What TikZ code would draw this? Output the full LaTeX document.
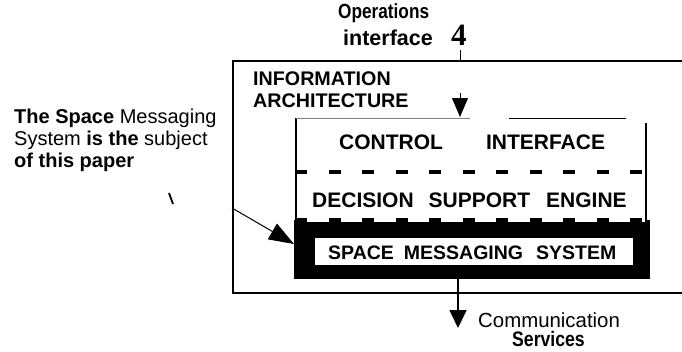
\documentclass[tikz,border=0pt]{standalone}
\usepackage{fontspec}
\setmainfont{Liberation Sans}
\newfontfamily\serifnum{Liberation Serif}
\newfontfamily\condsans[FakeStretch=0.84]{Liberation Sans}
\usetikzlibrary{arrows.meta}
\tikzset{
  lbl/.style={inner sep=0pt, anchor=base west, font=\bfseries\fontsize{21}{24}\selectfont},
  small/.style={inner sep=0pt, anchor=base west, font=\fontsize{20}{24}\selectfont},
  dashline/.style={line width=4.5pt, dash pattern=on 12pt off 21.5pt},
  bigtip/.style={-{Triangle[length=19pt,width=16pt]}, line width=1pt},
}
\begin{document}
\begin{tikzpicture}[x=1pt,y=-1pt]
\useasboundingbox (0,0) rectangle (682,351);
% outer information architecture box (runs off the right edge)
\draw[line width=2.6pt] (683,61) -- (233,61) -- (233,293) -- (683,293);
% black region under the decision support engine
\fill (294,220) rectangle (650,279);
% control interface + decision support engine white area
\fill[white] (296,118) rectangle (645,222);
\draw[line width=1.6pt] (296,118) -- (296,222);
\draw[line width=2.6pt] (646,123) -- (646,222);
\draw[line width=0.8pt, gray] (296,118) -- (470,118);
\draw[line width=0.9pt] (509,118) -- (626,118);
% dashed separator
\draw[dashline] (295,172) -- (647,172);
% notched boundary to black region
\draw[dashline] (295,220) -- (647,220);
% space messaging system box
\node[fill=white, minimum width=318pt, minimum height=27pt, inner sep=0pt] (sms) at (474,251.5) {};
\node[lbl, font=\bfseries\fontsize{19.5}{22}\selectfont] (smst) at (328,259) {SPACE\hspace{10pt}MESSAGING\hspace{13pt}SYSTEM};
% control box texts
\node[lbl] (ct) at (339,149) {CONTROL\hspace{43pt}INTERFACE};
\coordinate (ctop) at (460,117);
\node[lbl] (dse) at (312,207) {DECISION\hspace{15pt}SUPPORT\hspace{16pt}ENGINE};
% title
\node[lbl, font=\bfseries\fontsize{19.7}{22}\selectfont] (ia1) at (253,85) {INFORMATION};
\node[lbl, font=\bfseries\fontsize{19.7}{22}\selectfont] (ia2) at (253,107) {ARCHITECTURE};
% operations interface
\node[lbl, font=\condsans\bfseries\fontsize{20.5}{23}\selectfont] (op1) at (338,18) {Operations};
\node[lbl, font=\bfseries\fontsize{21.5}{24}\selectfont] (op2) at (343,45) {interface};
\node[lbl, font=\serifnum\bfseries\fontsize{31}{34}\selectfont] (four) at (451,45) {4};
\coordinate (tick) at (460,50);
\coordinate (boxtop) at (460,61);
\draw[line width=0.8pt] (tick) -- (boxtop);
\coordinate (arrin) at (460,93);
\draw[bigtip] (arrin) -- (ctop);
% communication services
\coordinate (smsbot) at (458,279);
\coordinate (comm) at (458,328);
\draw[line width=1.6pt, -{Triangle[length=18pt,width=17pt]}] (smsbot) -- (comm);
\node[small, font=\fontsize{20.4}{24}\selectfont] (cs1) at (478,327) {Communication};
\node[lbl, font=\condsans\bfseries\fontsize{21}{24}\selectfont] (cs2) at (512,346) {Services};
% left annotation
\node[small] (n1) at (14,123) {\textbf{The Space} Messaging};
\node[small] (n2) at (14,145) {System \textbf{is the} subject};
\node[small] (n3) at (14,167) {\textbf{of this paper}};
\coordinate (pstart) at (232,208);
\coordinate (pend) at (294,244);
\draw[line width=1pt, -{Triangle[length=25pt,width=18pt]}] (pstart) -- (pend);
\coordinate (m1) at (169,193);
\coordinate (m2) at (173,204);
\draw[line width=1.8pt] (m1) -- (m2);
\end{tikzpicture}
\end{document}
